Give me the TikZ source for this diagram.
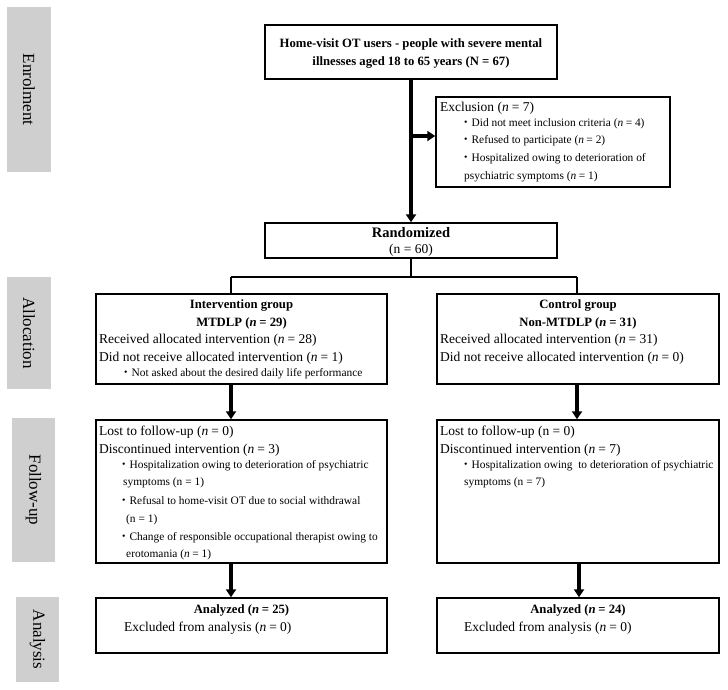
\documentclass[tikz,border=0pt]{standalone}
\usepackage{fontspec}
\setmainfont{Liberation Serif}
\newfontfamily\cjk{Noto Sans CJK JP}
\usetikzlibrary{arrows.meta}
\newcommand{\bul}{{\cjk ・}}
\newcommand{\nn}{\textit{n}\hspace{0.22em}}
\begin{document}
\begin{tikzpicture}[x=1pt,y=-1pt,
  box/.style={draw, line width=1.4pt, inner sep=0, minimum width=#1},
  side/.style={fill=black!19, inner sep=0, rotate=-90, font=\fontsize{17}{20}\selectfont},
  arr/.style={line width=3.4pt, -{Triangle[length=8pt,width=10pt]}},
  link/.style={line width=2.4pt},
  txt/.style={anchor=west, inner sep=0, font=\fontsize{13.5}{16}\selectfont},
  ctr/.style={inner sep=0, font=\bfseries\fontsize{12.7}{15}\selectfont},
  small/.style={anchor=west, inner sep=0, font=\fontsize{11.4}{13}\selectfont}]
\useasboundingbox (0,0) rectangle (728,689);

% side labels
\node[side, minimum width=165, minimum height=44] (sEn) at (29,89.5) {Enrolment};
\node[side, minimum width=112, minimum height=44] (sAl) at (29,333) {Allocation};
\node[side, minimum width=144, minimum height=43] (sFo) at (33.5,490) {Follow-up};
\node[side, minimum width=85, minimum height=43] (sAn) at (37.5,639.5) {Analysis};

% boxes
\node[box=292, minimum height=54] (top) at (411,52) {};
\node[box=234, minimum height=90] (excl) at (553,142) {};
\node[box=292, minimum height=35] (rand) at (411,240.5) {};
\node[box=291, minimum height=90] (alL) at (241.5,339) {};
\node[box=282, minimum height=90] (alR) at (578,339) {};
\node[box=291, minimum height=143] (foL) at (241.5,491.5) {};
\node[box=282, minimum height=143] (foR) at (578,491.5) {};
\node[box=291, minimum height=55] (anL) at (241.5,625.5) {};
\node[box=282, minimum height=55] (anR) at (578,625.5) {};

% texts: top
\node[ctr] (t1) at (411,44) {Home-visit OT users - people with severe mental};
\node[ctr] (t2) at (411,62) {illnesses aged 18 to 65 years (N = 67)};
% exclusion
\node[txt] (e0) at (440,108) {Exclusion (\nn = 7)};
\node[small] (e1) at (460,124) {\bul Did not meet inclusion criteria (\nn = 4)};
\node[small] (e2) at (460,141) {\bul Refused to participate (\nn = 2)};
\node[small] (e3) at (460,159) {\bul Hospitalized owing to deterioration of};
\node[small] (e4) at (464,177) {psychiatric symptoms (\nn = 1)};
% randomized
\node[ctr, font=\bfseries\fontsize{14.5}{16}\selectfont] (r1) at (411,233) {Randomized};
\node[inner sep=0, font=\fontsize{13.5}{16}\selectfont] (r2) at (411,250) {(n = 60)};
% allocation left
\node[ctr] (aL1) at (241.5,305) {Intervention group};
\node[ctr] (aL2) at (241.5,323) {MTDLP (\nn = 29)};
\node[txt] (aL3) at (99,340) {Received allocated intervention (\nn = 28)};
\node[txt] (aL4) at (99,358) {Did not receive allocated intervention (\nn = 1)};
\node[small] (aL5) at (120,374) {\bul Not asked about the desired daily life performance};
% allocation right
\node[ctr] (aR1) at (578,305) {Control group};
\node[ctr] (aR2) at (578,323) {Non-MTDLP (\nn = 31)};
\node[txt] (aR3) at (440,340) {Received allocated intervention (\nn = 31)};
\node[txt] (aR4) at (440,358) {Did not receive allocated intervention (\nn = 0)};
% follow-up left
\node[txt] (fL1) at (99,432) {Lost to follow-up (\nn = 0)};
\node[txt] (fL2) at (99,450) {Discontinued intervention (\nn = 3)};
\node[small] (fL3) at (118,466) {\bul Hospitalization owing to deterioration of psychiatric};
\node[small] (fL4) at (123,483) {symptoms (n = 1)};
\node[small] (fL5) at (118,501) {\bul Refusal to home-visit OT due to social withdrawal};
\node[small] (fL6) at (126,520) {(n = 1)};
\node[small] (fL7) at (118,538) {\bul Change of responsible occupational therapist owing to};
\node[small] (fL8) at (126,555) {erotomania (\nn = 1)};
% follow-up right
\node[txt] (fR1) at (440,432) {Lost to follow-up (n = 0)};
\node[txt] (fR2) at (440,450) {Discontinued intervention (\nn = 7)};
\node[small] (fR3) at (460,466) {\bul Hospitalization owing\ \ to deterioration of psychiatric};
\node[small] (fR4) at (464,483) {symptoms (n = 7)};
% analysis
\node[ctr] (nL1) at (241.5,610) {Analyzed (\nn = 25)};
\node[txt] (nL2) at (124,628) {Excluded from analysis (\nn = 0)};
\node[ctr] (nR1) at (578,610) {Analyzed (\nn = 24)};
\node[txt] (nR2) at (464,628) {Excluded from analysis (\nn = 0)};

% connectors
\coordinate (j1) at (411,136);
\coordinate (br) at (411,277);
\coordinate (brL) at (231,277);
\coordinate (brR) at (577,277);
\draw[arr] (top.south) -- (rand.north);
\draw[arr] (j1) -- (j1 -| excl.west);
\draw[link] (rand.south) -- (br);
\draw[link] (brL) -- (brR);
\draw[link] (brL) -- (brL |- alL.north);
\draw[link] (brR) -- (brR |- alR.north);
\draw[arr] (alL.south -| brL) -- (foL.north -| brL);
\draw[arr] (alR.south -| brR) -- (foR.north -| brR);
\draw[arr] (foL.south -| brL) -- (anL.north -| brL);
\draw[arr] (foR.south -| 579,0) -- (anR.north -| 579,0);
\end{tikzpicture}
\end{document}
